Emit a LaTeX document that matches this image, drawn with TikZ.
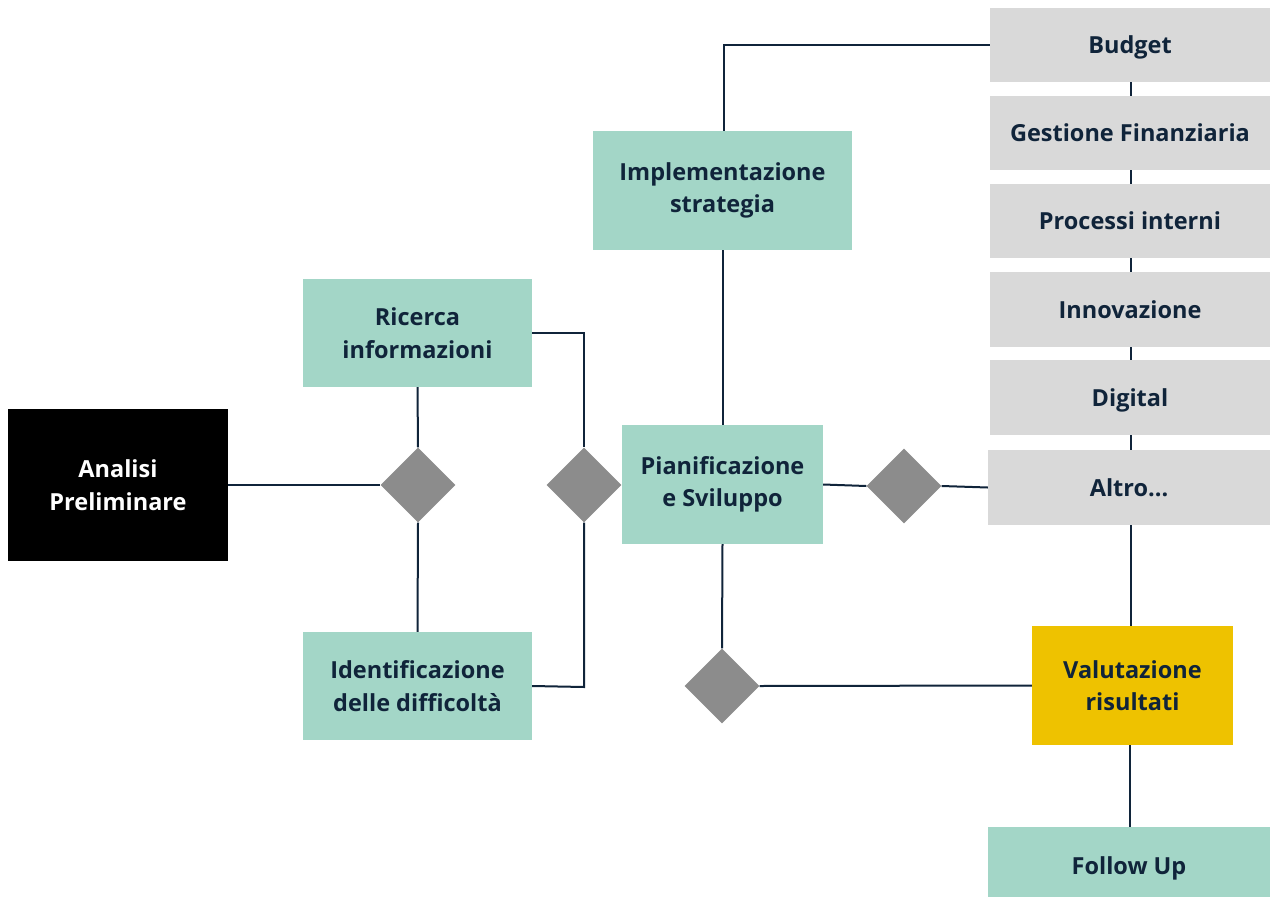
\documentclass[tikz,border=0pt]{standalone}
\usepackage{fontspec}
\setmainfont{Open Sans}[BoldFont={* Bold}]
\usetikzlibrary{shapes.geometric}
\definecolor{tealbox}{HTML}{A3D6C7}
\definecolor{greybox}{HTML}{D9D9D9}
\definecolor{yelbox}{HTML}{EEC200}
\definecolor{ink}{HTML}{10243A}
\definecolor{dia}{HTML}{8C8C8C}
\begin{document}
\begin{tikzpicture}[x=1pt,y=-1pt,
  box/.style={rectangle, inner sep=0pt, align=center, text=ink,
     font=\bfseries\fontsize{23.5}{32.5}\selectfont},
  one/.style={text height=17pt, text depth=0pt},
  teal/.style={box, fill=tealbox},
  grey/.style={box, one, fill=greybox},
  gate/.style={diamond, fill=dia, inner sep=0pt, minimum width=75pt, minimum height=75pt},
  link/.style={draw=ink, line width=2pt}]
\useasboundingbox (0,0) rectangle (1270,897);
% boxes
\node[box, fill=black, text=white, minimum width=220pt, minimum height=152pt] (ap) at (118,485) {Analisi\\Preliminare};
\node[teal, minimum width=229pt, minimum height=108pt] (ri) at (417.5,333) {Ricerca\\informazioni};
\node[teal, minimum width=229pt, minimum height=108pt] (id) at (417.5,686) {Identificazione\\delle difficoltà};
\node[teal, minimum width=259pt, minimum height=119pt] (im) at (722.5,190.5) {Implementazione\\strategia};
\node[teal, minimum width=201pt, minimum height=119pt] (ps) at (722.5,484.5) {Pianificazione\\e Sviluppo};
\node[grey, minimum width=280pt, minimum height=74pt] (bu) at (1130,45) {Budget};
\node[grey, minimum width=280pt, minimum height=74pt] (gf) at (1130,133) {Gestione Finanziaria};
\node[grey, minimum width=280pt, minimum height=74pt] (pi) at (1130,221) {Processi interni};
\node[grey, minimum width=280pt, minimum height=75pt] (in) at (1130,309.5) {Innovazione};
\node[grey, minimum width=280pt, minimum height=75pt] (di) at (1130,397.5) {Digital};
\node[grey, minimum width=282pt, minimum height=75pt] (al) at (1129,487.5) {Altro...};
\node[box, fill=yelbox, minimum width=201pt, minimum height=119pt] (va) at (1132.5,685.5) {Valutazione\\risultati};
\node[teal, one, minimum width=282pt, minimum height=78pt] (fu) at (1129,866) {Follow Up};
% diamonds
\node[gate] (d1) at (418,485) {};
\node[gate] (d2) at (584,485) {};
\node[gate] (d3) at (904,486) {};
\node[gate] (d4) at (722,686) {};
% coordinates for bends
\coordinate (c1) at (584,333);
\coordinate (c2) at (584,687);
\coordinate (c3) at (724,45);
% connectors
\draw[link] (ap.east) -- (d1.west);
\draw[link] (ri.south) -- (d1.north);
\draw[link] (d1.south) -- (id.north);
\draw[link] (ri.east) -- (c1) -- (d2.north);
\draw[link] (d2.south) -- (c2) -- (id.east);
\draw[link] (ps.north) -- (im.south);
\draw[link] (im.north -| c3) -- (c3) -- (bu.west);
\draw[link] (bu.south -| 1131,0) -- (gf.north -| 1131,0);
\draw[link] (gf.south -| 1131,0) -- (pi.north -| 1131,0);
\draw[link] (pi.south -| 1131,0) -- (in.north -| 1131,0);
\draw[link] (in.south -| 1131,0) -- (di.north -| 1131,0);
\draw[link] (di.south -| 1131,0) -- (al.north -| 1131,0);
\draw[link] (ps.east) -- (d3.west);
\draw[link] (d3.east) -- (al.west);
\draw[link] (al.south -| 1131,0) -- (va.north -| 1131,0);
\draw[link] (va.south -| 1130,0) -- (fu.north -| 1130,0);
\draw[link] (ps.south) -- (d4.north);
\draw[link] (d4.east) -- (va.west);
\end{tikzpicture}
\end{document}
